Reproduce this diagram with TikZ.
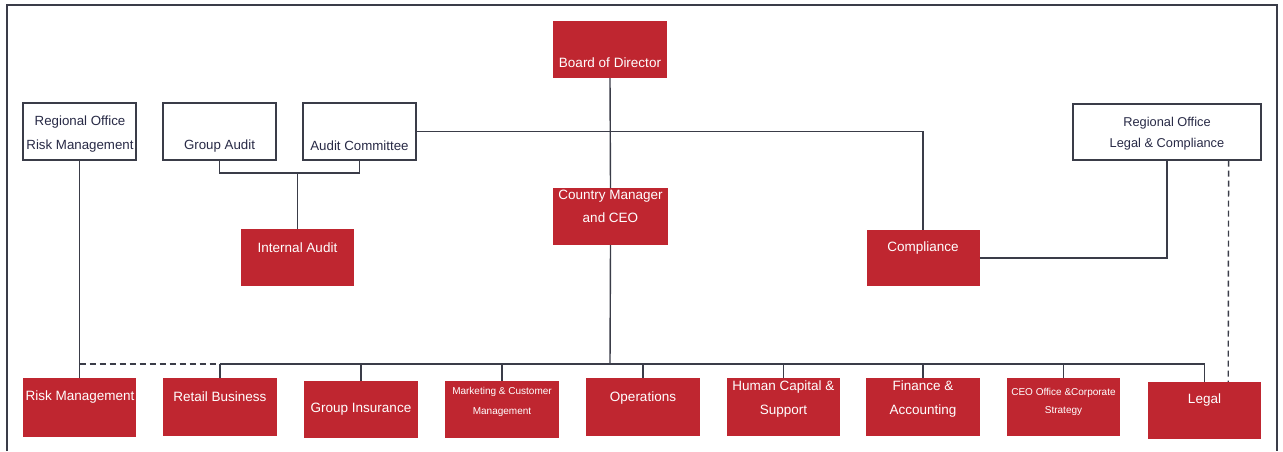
\documentclass[tikz,border=0pt]{standalone}
\usepackage{fontspec}
\setmainfont{Liberation Sans}
\definecolor{cred}{RGB}{191,38,48}
\definecolor{cline}{RGB}{58,60,72}
\definecolor{ctext}{RGB}{40,42,70}
\begin{document}
\begin{tikzpicture}[x=1pt,y=-1pt,
  redbox/.style={fill=cred, draw=none, minimum width=113pt, minimum height=57pt, inner sep=0pt},
  whitebox/.style={draw=cline, line width=1.2pt, fill=white, minimum width=113pt, minimum height=57pt, inner sep=0pt},
  wtext/.style={text=white, align=center, inner sep=0pt, font=\fontsize{13.5}{23}\selectfont},
  stext/.style={text=white, align=center, inner sep=0pt, font=\fontsize{10}{20}\selectfont},
  dtext/.style={text=ctext, align=center, inner sep=0pt, font=\fontsize{13.3}{24}\selectfont},
  conn/.style={draw=cline, line width=1.4pt},
  dconn/.style={conn, dash pattern=on 6pt off 4pt}]
\useasboundingbox (0,0) rectangle (1283,451);
\draw[cline, line width=1.4pt] (7,451) -- (7,5) -- (1277,5) -- (1277,451);
% boxes
\node[redbox, minimum width=114pt] (bod) at (610,49.5) {};
\node[redbox, minimum width=115pt] (ceo) at (610.5,216.5) {};
\node[whitebox] (rorm) at (79.5,131.5) {};
\node[whitebox] (ga) at (219.5,131.5) {};
\node[whitebox] (ac) at (359.5,131.5) {};
\node[redbox] (ia) at (297.5,257.5) {};
\node[redbox, minimum height=56pt] (comp) at (923,258) {};
\node[whitebox, minimum width=188pt, minimum height=56pt] (rlc) at (1167,132) {};
\node[redbox, minimum height=59pt] (rm) at (79.5,407.5) {};
\node[redbox, minimum width=114pt, minimum height=58pt] (ret) at (220,407) {};
\node[redbox, minimum width=114pt] (gi) at (361,409.5) {};
\node[redbox, minimum width=114pt] (mkt) at (502,409.5) {};
\node[redbox, minimum width=114pt, minimum height=58pt] (ops) at (643,407) {};
\node[redbox, minimum height=58pt] (hc) at (783.5,407) {};
\node[redbox, minimum width=114pt, minimum height=58pt] (fin) at (923,407) {};
\node[redbox, minimum height=58pt] (ceoo) at (1063.5,407) {};
\node[redbox] (leg) at (1204.5,410.5) {};
% texts
\node[wtext] (bodt) at (610,63) {Board of Director};
\node[wtext] (ceot) at (610.5,206.5) {Country Manager\\and CEO};
\node[dtext] (rormt) at (80,134) {Regional Office\\Risk Management};
\node[dtext] (gat) at (219.5,146) {Group Audit};
\node[dtext] (act) at (359.5,146) {Audit Committee};
\node[wtext] (iat) at (297.5,248) {Internal Audit};
\node[wtext] (compt) at (923,248) {Compliance};
\node[dtext, font=\fontsize{12.8}{21}\selectfont] (rlct) at (1167,133.5) {Regional Office\\Legal \& Compliance};
\node[wtext] (rmt) at (80,397) {Risk Management};
\node[wtext] (rett) at (220,397) {Retail Business};
\node[wtext] (git) at (361,409) {Group Insurance};
\node[stext] (mktt) at (502,402) {Marketing \& Customer\\Management};
\node[wtext] (opst) at (643,398) {Operations};
\node[wtext, font=\fontsize{13.5}{24}\selectfont] (hct) at (783.5,399) {Human Capital \&\\Support};
\node[wtext, font=\fontsize{13.5}{24}\selectfont] (fint) at (923,399) {Finance \&\\Accounting};
\node[stext, font=\fontsize{10}{18}\selectfont] (ceoot) at (1063.5,402) {CEO Office \&Corporate\\Strategy};
\node[wtext] (legt) at (1204.5,400) {Legal};
% connectors
\coordinate (bus) at (610,364);
\coordinate (aj) at (297.5,173);
\draw[conn] (bod.south) -- (ceo.north);
\draw[conn] (ceo.south) -- (bus);
\draw[conn] (ac.east) -| (comp.north);
\draw[conn] (ga.south) |- (aj) -| (ac.south);
\draw[conn] (aj) -- (ia.north);
\draw[conn] (rorm.south) -- (rm.north);
\draw[dconn] (rm.north |- bus) -- (ret.north |- bus);
\draw[conn] (ret.north |- bus) -- (leg.north |- bus);
\foreach \n in {ret,gi,mkt,ops,hc,fin,ceoo,leg}
  \draw[conn] (\n.north |- bus) -- (\n.north);
\draw[conn] (comp.east) -| (rlc.south);
\draw[dconn] ([xshift=-33pt]rlc.south east) -- ([xshift=-33pt]leg.north east);
\end{tikzpicture}
\end{document}
